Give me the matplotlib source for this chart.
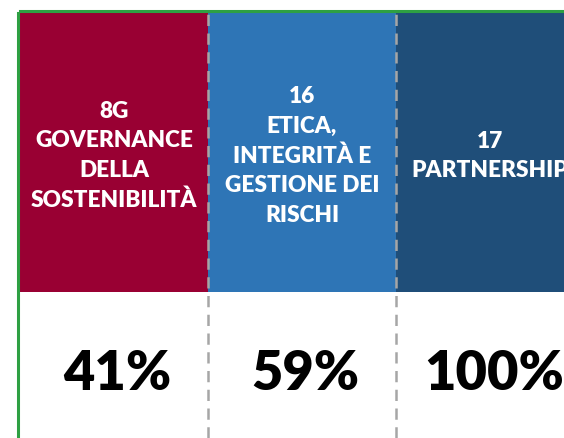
import matplotlib
matplotlib.use("Agg")
import matplotlib.pyplot as plt

plt.rcParams['font.family'] = ['Lato', 'DejaVu Sans']

headers = ["8G\nGOVERNANCE\nDELLA\nSOSTENIBILITÀ",
           "16\nETICA,\nINTEGRITÀ E\nGESTIONE DEI\nRISCHI",
           "17\nPARTNERSHIP"]
percent = [41, 59, 100]
colors = ["#990033", "#2E75B6", "#1F4E79"]

W, H = 564, 438
fig = plt.figure(figsize=(W / 100, H / 100), dpi=100)
col_w = 188
# axes spans the three columns (the last one is cut by the figure edge)
ax = fig.add_axes([20 / W, 0, 3 * col_w / W, (H - 13) / H])
ax.set_xlim(0, 3)
ax.set_ylim(0, 1)
head_bottom = 1 - (292 - 13) / (H - 13)

x = range(len(headers))
ax.bar(x, 1 - head_bottom, bottom=head_bottom, width=1, align='edge',
       color=colors, linewidth=0)

for i in range(1, len(headers)):
    ax.axvline(i, color="#A6A6A6", lw=1.8, ls=(0, (4.5, 3)), zorder=3)

for i, (h, p) in enumerate(zip(headers, percent)):
    ax.text(i + 0.5, (1 + head_bottom) / 2 - 0.008, h, ha='center', va='center',
            color='white', fontsize=16.3, fontweight='heavy', linespacing=1.5)
    ax.text(i + 0.52, head_bottom / 2 - 0.02, f"{p}%", ha='center', va='center',
            color='black', fontsize=39, fontweight='heavy')

for s in ['right', 'bottom']:
    ax.spines[s].set_visible(False)
for s in ['left', 'top']:
    ax.spines[s].set_color("#2EA043")
    ax.spines[s].set_linewidth(2.2)
    ax.spines[s].set_position(('outward', 1.5))
ax.set_xticks([])
ax.set_yticks([])

fig.savefig("out.png", dpi=100)
